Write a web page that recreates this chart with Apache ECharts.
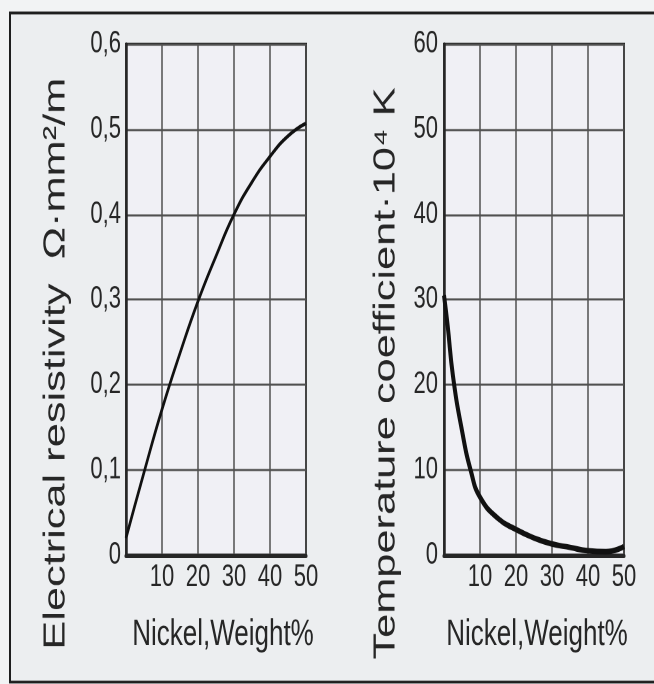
<!DOCTYPE html>
<html>
<head>
<meta charset="utf-8">
<script src="https://cdn.jsdelivr.net/npm/echarts@6/dist/echarts.min.js"></script>
<style>
html,body{margin:0;padding:0;background:#f2f3f4;overflow:hidden;}
#wrap{width:654px;height:684px;overflow:hidden;}
#c{width:654px;height:489px;transform:scaleY(1.398773);transform-origin:0 0;}
</style>
</head>
<body>
<div id="wrap"><div id="c"></div></div>
<script>
// ---- data ----
const nickel = [0, 5, 10, 15, 20, 25, 30, 35, 40, 45, 50];
const resistivity = [0.02, 0.097, 0.171, 0.237, 0.298, 0.351, 0.400, 0.438, 0.468, 0.492, 0.507];
const nickelTC = [0, 1, 2.5, 5, 7.5, 10, 15, 20, 25, 30, 35, 40, 45, 50];
const tempCoef = [30.5, 27, 21, 14.6, 9.8, 6.8, 4.3, 3.0, 2.0, 1.3, 0.9, 0.5, 0.4, 1.0];
const xTicks = [0, 10, 20, 30, 40, 50];
const resTicks = [0, 0.1, 0.2, 0.3, 0.4, 0.5, 0.6];
const tcTicks = [0, 10, 20, 30, 40, 50, 60];
const xName = 'Nickel,Weight%';
const leftTitle = 'Electrical resistivity  Ω·mm²/m';
const rightTitle = 'Temperature coefficient·10⁴ K';

const narrow = "'Liberation Sans Narrow','Liberation Sans',Arial,sans-serif";
const sans = "'Liberation Sans',Arial,sans-serif";
const ink = '#262626';

function xAxisDef(gi, padLeft) {
  return {
    type: 'value', gridIndex: gi, min: xTicks[0], max: xTicks[xTicks.length - 1], interval: 10,
    name: xName, nameLocation: 'middle', nameGap: 44,
    nameTextStyle: {fontFamily: sans, fontSize: 26, color: ink, padding: [0, 0, 0, padLeft]},
    axisLine: {show: true, lineStyle: {color: ink, width: 3}},
    axisTick: {show: false},
    axisLabel: {margin: 5, fontFamily: narrow, fontSize: 22, color: ink,
      formatter: v => v === 0 ? '' : String(v)},
    splitLine: {show: true, lineStyle: {color: '#505050', width: 1.5}}
  };
}
function yAxisDef(gi, ticks, fmt, margin) {
  return {
    type: 'value', gridIndex: gi, min: ticks[0], max: ticks[ticks.length - 1],
    interval: ticks[1] - ticks[0],
    axisLine: {show: true, lineStyle: {color: ink, width: 2.5}},
    axisTick: {show: false},
    axisLabel: {margin: margin, fontFamily: narrow, fontSize: 22, color: ink, formatter: fmt},
    splitLine: {show: true, lineStyle: {color: '#505050', width: 1.5}}
  };
}

const chart = echarts.init(document.getElementById('c'), null, {renderer: 'canvas', devicePixelRatio: 2});
chart.setOption({
  backgroundColor: '#f2f3f4',
  animation: false,
  graphic: [
    {type: 'rect', z: -10, shape: {x: 10, y: 9.3, width: 700, height: 478.3},
      style: {fill: '#eceef0', stroke: '#1e1e1e', lineWidth: 2}},
    {type: 'text', x: 56, y: 260, rotation: Math.PI / 2,
      style: {text: leftTitle, font: "31px 'Liberation Sans',Arial,sans-serif", fill: ink,
        textAlign: 'center', textVerticalAlign: 'middle'}},
    {type: 'text', x: 386, y: 267, rotation: Math.PI / 2,
      style: {text: rightTitle, font: "31px 'Liberation Sans',Arial,sans-serif", fill: ink,
        textAlign: 'center', textVerticalAlign: 'middle'}}
  ],
  grid: [
    {left: 126, top: 31.5, width: 180, height: 365.3, show: true, borderColor: ink, borderWidth: 2, backgroundColor: '#f0f0f5'},
    {left: 444, top: 31.5, width: 180, height: 365.3, show: true, borderColor: ink, borderWidth: 2, backgroundColor: '#f0f0f5'}
  ],
  xAxis: [xAxisDef(0, 14), xAxisDef(1, 6)],
  yAxis: [
    yAxisDef(0, resTicks, v => v === 0 ? '0' : v.toFixed(1).replace('.', ','), 5),
    yAxisDef(1, tcTicks, v => String(v), 6)
  ],
  series: [
    {type: 'line', xAxisIndex: 0, yAxisIndex: 0, smooth: true, showSymbol: false,
      lineStyle: {color: '#111', width: 2.6},
      data: nickel.map((x, i) => [x, resistivity[i]])},
    {type: 'line', xAxisIndex: 1, yAxisIndex: 1, smooth: true, showSymbol: false,
      lineStyle: {color: '#111', width: 4},
      data: nickelTC.map((x, i) => [x, tempCoef[i]])}
  ]
});
</script>
</body>
</html>
